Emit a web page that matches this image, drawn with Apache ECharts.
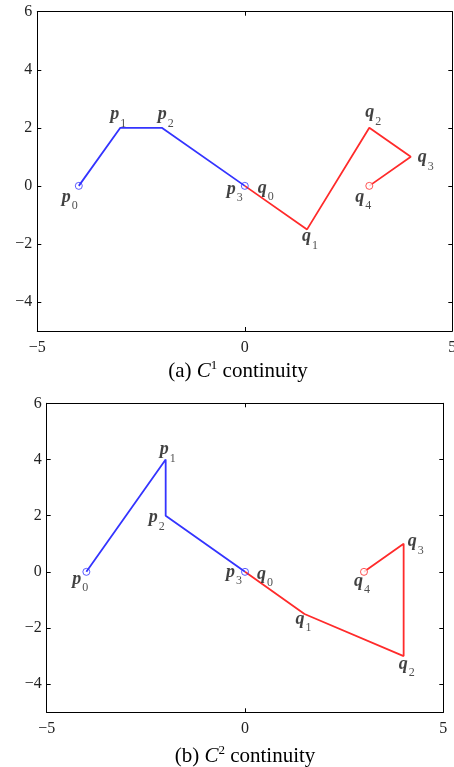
<!DOCTYPE html>
<html><head><meta charset="utf-8">
<script src="https://cdn.jsdelivr.net/npm/echarts@6/dist/echarts.min.js"></script>
<style>html,body{margin:0;padding:0;background:#fff}#c{width:454px;height:767px}</style>
</head><body><div id="c"></div>
<script>
// ---- data ----
const topP = [[-4, 0], [-3, 2], [-2, 2], [0, 0]];
const topQ = [[0, 0], [1.5, -1.5], [3, 2], [4, 1], [3, 0]];
const botP = [[-4, 0], [-2, 4], [-2, 2], [0, 0]];
const botQ = [[0, 0], [1.5, -1.5], [4, -3], [4, 1], [3, 0]];
const xTicks = [-5, 0, 5];
const yTicks = [-4, -2, 0, 2, 4, 6];
const captions = ['(a) {i|C}{sup|1} continuity', '(b) {i|C}{sup|2} continuity'];

// ---- label offsets (style) ----
const topPOff = [[-9, 11], [-2, -13], [4, -13], [-10, 3]];
const topQOff = [[21, 2], [3, 7], [4, -15], [15, 1], [-6, 11]];
const botPOff = [[-6, 7], [2, -10], [-9, 2], [-11, 0]];
const botQOff = [[20, 2], [-1, 5], [3, 8], [12, -2], [-2, 9]];

const FONT = 'Liberation Serif';
const BLUE = '#3434ff';
const RED = '#ff2b2b';
const minus = v => String(v).replace('-', '\u2212');

const grids = [
  {left: 37.3, top: 11.7, width: 415, height: 319.3, outerBoundsMode: 'none', containLabel: false},
  {left: 46.7, top: 403.3, width: 396.6, height: 309, outerBoundsMode: 'none', containLabel: false}
];
const xLabelMargin = [9, 8];

const xAxes = [], yAxes = [];
grids.forEach((g, i) => {
  const base = {type: 'value', gridIndex: i, min: -5, max: 5, interval: 5,
    axisLine: {show: true, onZero: false, lineStyle: {color: '#000', width: 1}},
    axisTick: {show: true, inside: true, length: 4, lineStyle: {color: '#000'}},
    splitLine: {show: false}};
  xAxes.push(Object.assign({}, base, {position: 'bottom',
    axisLabel: {show: true, margin: xLabelMargin[i], fontFamily: FONT, fontSize: 16, color: '#222', formatter: minus}}));
  xAxes.push(Object.assign({}, base, {position: 'top', axisLabel: {show: false}}));
  const ybase = {type: 'value', gridIndex: i, min: -5, max: 6,
    axisLine: {show: true, onZero: false, lineStyle: {color: '#000', width: 1}},
    axisTick: {show: true, inside: true, length: 4, lineStyle: {color: '#000'}, customValues: yTicks},
    splitLine: {show: false}};
  yAxes.push(Object.assign({}, ybase, {position: 'left',
    axisLabel: {show: true, margin: 5, fontFamily: FONT, fontSize: 16, color: '#222', customValues: yTicks, formatter: minus}}));
  yAxes.push(Object.assign({}, ybase, {position: 'right', axisLabel: {show: false}}));
});

const series = [];
function addPlot(idx, P, Q, pOff, qOff) {
  const xi = idx * 2, yi = idx * 2;
  series.push({type: 'line', xAxisIndex: xi, yAxisIndex: yi, data: P, showSymbol: false,
    lineStyle: {color: BLUE, width: 1.8}, silent: true, animation: false});
  series.push({type: 'line', xAxisIndex: xi, yAxisIndex: yi, data: Q, showSymbol: false,
    lineStyle: {color: RED, width: 1.8}, silent: true, animation: false});
  series.push({type: 'scatter', xAxisIndex: xi, yAxisIndex: yi, symbol: 'circle', symbolSize: 7,
    data: [Q[Q.length - 1]], itemStyle: {color: '#fff', borderColor: RED, borderWidth: 1}, z: 3, animation: false});
  series.push({type: 'scatter', xAxisIndex: xi, yAxisIndex: yi, symbol: 'circle', symbolSize: 7,
    data: [P[0], P[P.length - 1]], itemStyle: {color: 'rgba(255,255,255,0)', borderColor: BLUE, borderWidth: 1}, z: 4, animation: false});
  const labels = [];
  P.forEach((pt, k) => labels.push({value: pt, name: 'p' + k, off: pOff[k]}));
  Q.forEach((pt, k) => labels.push({value: pt, name: 'q' + k, off: qOff[k]}));
  labels.forEach(l => {
    series.push({type: 'scatter', xAxisIndex: xi, yAxisIndex: yi, symbolSize: 0, silent: true, animation: false, z: 5,
      data: [{value: l.value, name: l.name}],
      label: {show: true, position: 'inside', offset: l.off,
        formatter: p => '{m|' + p.name[0] + '}{s|' + p.name.slice(1) + '}',
        rich: {
          m: {fontFamily: FONT, fontStyle: 'italic', fontWeight: 'bold', fontSize: 18, color: '#111', lineHeight: 30},
          s: {fontFamily: FONT, fontSize: 12, color: '#222', lineHeight: 12, verticalAlign: 'bottom', padding: [0, 0, 0, 1]}
        }}
    });
  });
}
addPlot(0, topP, topQ, topPOff, topQOff);
addPlot(1, botP, botQ, botPOff, botQOff);

const capRich = {
  i: {fontFamily: FONT, fontStyle: 'italic', fontSize: 21, color: '#000', lineHeight: 24},
  sup: {fontFamily: FONT, fontSize: 13, color: '#000', lineHeight: 13, verticalAlign: 'top'}
};
const option = {
  backgroundColor: '#fff',
  animation: false,
  title: [
    {text: captions[0], left: 238, top: 359, textAlign: 'center', padding: 0,
      textStyle: {fontFamily: FONT, fontSize: 21, fontWeight: 'normal', color: '#000', lineHeight: 24, rich: capRich}},
    {text: captions[1], left: 245, top: 744, textAlign: 'center', padding: 0,
      textStyle: {fontFamily: FONT, fontSize: 21, fontWeight: 'normal', color: '#000', lineHeight: 24, rich: capRich}}
  ],
  grid: grids,
  xAxis: xAxes,
  yAxis: yAxes,
  series: series
};
const chart = echarts.init(document.getElementById('c'), null, {renderer: 'canvas'});
chart.setOption(option);
</script></body></html>
